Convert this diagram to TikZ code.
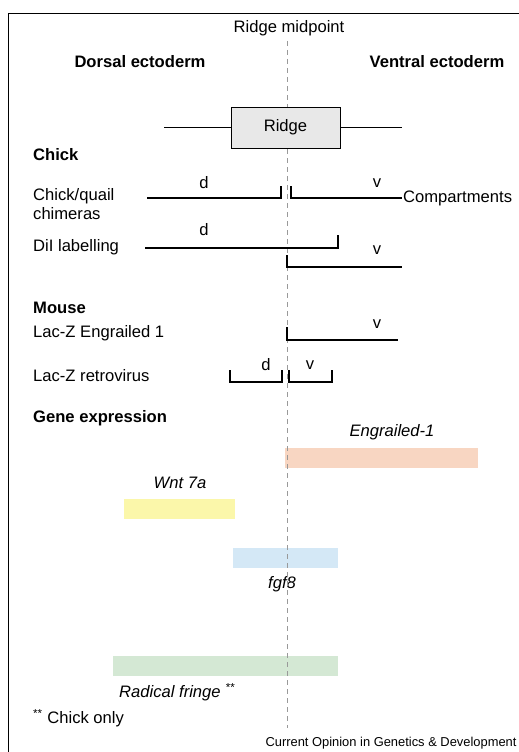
\documentclass[tikz,border=0pt]{standalone}
\usepackage{fontspec}
\setmainfont{Liberation Sans}
\usetikzlibrary{positioning}

\definecolor{ridgegray}{RGB}{232,232,232}
\definecolor{engcol}{RGB}{248,214,194}
\definecolor{wntcol}{RGB}{251,247,170}
\definecolor{fgfcol}{RGB}{212,232,246}
\definecolor{rfngcol}{RGB}{212,232,212}

\begin{document}
\begin{tikzpicture}[x=1pt,y=-1pt,
  txt/.style={font=\fontsize{16.6}{19.5}\selectfont,inner sep=0pt},
  hdr/.style={inner sep=0pt,font=\fontsize{16.6}{19.5}\selectfont\bfseries},
  gene/.style={inner sep=0pt,font=\fontsize{16.6}{19.5}\selectfont\itshape},
  cmp/.style={line width=1.1pt},
  bar/.style={draw=none,fill=#1,rectangle,minimum height=20pt,inner sep=0pt},
  mid/.style={gray!80,line width=0.8pt,dash pattern=on 5pt off 4pt}]
\useasboundingbox (0,0) rectangle (519,752);
\fill[white] (0,0) rectangle (519,752);
\draw[line width=1pt] (8.5,752) -- (8.5,14) -- (519,14);

% headings
\node[txt] (midpt) at (289,28) {Ridge midpoint};
\node[hdr] (dorsal) at (140,62) {Dorsal ectoderm};
\node[hdr] (ventral) at (437,62) {Ventral ectoderm};

% row labels
\foreach \y/\t/\s in {155/Chick/hdr,247/DiI labelling/txt,308/Mouse/hdr,
  333/Lac-Z Engrailed 1/txt,376/Lac-Z retrovirus/txt,418/Gene expression/hdr} {
   \node[\s,anchor=west] at (33,\y) {\t};
}
\node[txt,anchor=west,align=left] (chimera) at (33,204) {Chick/quail\\chimeras};
\node[txt,anchor=west] (chonly) at (33,718) {\textsuperscript{**} Chick only};

% expression bars
\node[bar=engcol,minimum width=193pt] (engbar) at (381.5,458) {};
\node[bar=wntcol,minimum width=111pt] (wntbar) at (179.5,509) {};
\node[bar=fgfcol,minimum width=105pt] (fgfbar) at (285.5,558) {};
\node[bar=rfngcol,minimum width=225pt] (rfngbar) at (225.5,666) {};
\node[gene] (englab) at (392,432) {Engrailed-1};
\node[gene] (wntlab) at (180,483) {Wnt 7a};
\node[gene] (fgflab) at (282,584) {fgf8};
\node[gene,anchor=west] (rfnglab) at (119,692) {Radical fringe \textsuperscript{**}};

% midline and ridge
\coordinate (midtop) at (287,41);
\coordinate (midbot) at (287,728);
\draw[mid] (midtop) -- (midbot);
\node[txt,draw,line width=1pt,fill=ridgegray,minimum width=109pt,minimum height=41pt]
   (ridge) at (285.5,127.5) {Ridge};
\coordinate (rl) at (164,127.5);
\coordinate (rr) at (402,127.5);
\draw[line width=1pt] (rl) -- (ridge.west);
\draw[line width=1pt] (ridge.east) -- (rr);

% compartment brackets
\draw[cmp] (147,198) -| (281,186);
\draw[cmp] (291,186) |- (402,198);
\node[txt,anchor=west] (comp) at (403,198) {Compartments};
\draw[cmp] (145,248) -| (338,235);
\draw[cmp] (287,255) |- (402,267);
\draw[cmp] (287,327) |- (398,340);
\draw[cmp] (230,370) |- (282,382) -- (282,370);
\draw[cmp] (289,370) |- (332,382) -- (332,370);
\foreach \x/\y/\c in {204/183/d,377/183/v,204/230/d,377/250/v,377/324/v,266/365/d,310/365/v} {
   \node[txt] at (\x,\y) {\c};
}

\node[inner sep=0pt,font=\fontsize{12.9}{15}\selectfont] (credit) at (391,743)
   {Current Opinion in Genetics \& Development};
\end{tikzpicture}
\end{document}
